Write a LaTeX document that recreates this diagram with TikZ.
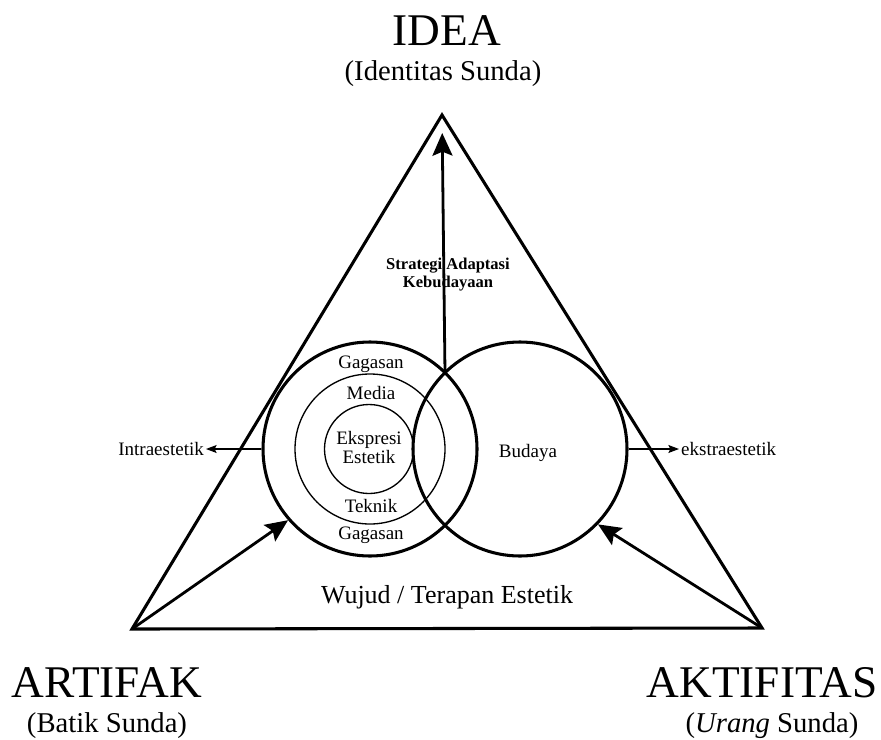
\documentclass[tikz,border=0pt]{standalone}
\usepackage{fontspec}
\setmainfont{Liberation Serif}
\usetikzlibrary{arrows.meta}

\begin{document}
\begin{tikzpicture}[x=0.75pt,y=-0.75pt,inner sep=0.5mm,
  tebal/.style={line width=2.3pt},
  tipis/.style={line width=1pt},
  lingkar/.style={circle,draw,inner sep=0pt},
  panah/.style={-{Stealth[length=17pt,width=15pt,inset=3pt]},line width=2.1pt},
  panahkecil/.style={-{Stealth[length=8pt,width=6pt,inset=1.5pt]},line width=0.8pt},
  judul/.style={font=\fontsize{34}{38}\selectfont,anchor=base},
  subjudul/.style={font=\fontsize{21.5}{24}\selectfont,anchor=base},
  teks/.style={font=\fontsize{14.25}{14.25}\selectfont,anchor=base,align=center}]
\useasboundingbox (0,0) rectangle (881,739);
\coordinate (puncak) at (442,115);
\coordinate (kiribawah) at (132,629);
\coordinate (kananbawah) at (762,628);
\coordinate (potong) at (445,373);
\node[lingkar,tebal,minimum size=160.5pt] (kiri) at (370,449) {};
\node[lingkar,tebal,minimum size=160.5pt] (kanan) at (520,449) {};
\node[lingkar,tipis,minimum size=112.5pt] (media) at (370,449) {};
\node[lingkar,tipis,minimum size=66.75pt] (inti) at (369,449) {};
\node[judul] (idea) at (447,45) {IDEA};
\node[subjudul] (identitas) at (443,80) {(Identitas Sunda)};
\node[judul] (artifak) at (107,697) {ARTIFAK};
\node[subjudul] (batik) at (107,732) {(Batik Sunda)};
\node[judul] (aktifitas) at (762,697) {AKTIFITAS};
\node[subjudul] (urang) at (772,732) {(\textit{Urang} Sunda)};
\node[teks] (gagasanatas) at (371,368) {Gagasan};
\node[teks] (medialabel) at (371,399) {Media};
\node[teks] (ekspresi) at (369,463) {Ekspresi\\Estetik};
\node[teks] (teknik) at (371,512) {Teknik};
\node[teks] (gagasanbawah) at (371,539) {Gagasan};
\node[teks] (budaya) at (528,457) {Budaya};
\node[teks,anchor=east] (intra) at (206,449) {Intraestetik};
\node[teks,anchor=west] (ekstra) at (679,449) {ekstraestetik};
\node[font=\fontsize{19.5}{20}\selectfont,anchor=base] (wujud) at (447,603) {Wujud / Terapan Estetik};
\node[font=\bfseries\fontsize{12.4}{13.5}\selectfont,anchor=base,align=center] (strategi) at (448,287) {Strategi Adaptasi\\Kebudayaan};
\draw[tebal] (puncak) -- (kiribawah) -- (kananbawah) -- cycle;
\path (potong) edge [panah,shorten >=13.5pt] (puncak);
\path (kiribawah) edge [panah] (kiri.221);
\path (kananbawah) edge [panah] (kanan.316);
\path (kiri.west) edge [panahkecil] (intra.east);
\path (kanan.east) edge [panahkecil] (ekstra.west);
\end{tikzpicture}
\end{document}
